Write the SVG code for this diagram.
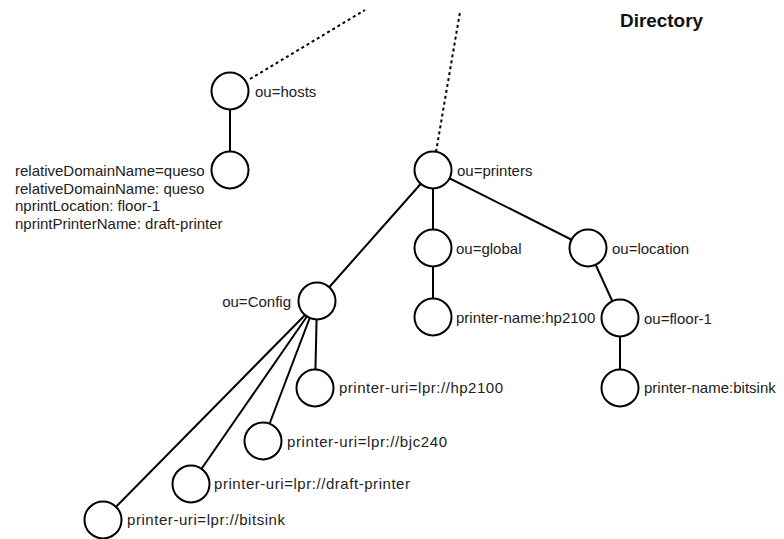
<svg xmlns="http://www.w3.org/2000/svg" width="784" height="539" viewBox="0 0 784 539">
<style>
.n{fill:#fff;stroke:#000;stroke-width:2}
.e{stroke:#000;stroke-width:2;fill:none}
.d{stroke:#000;stroke-width:2;fill:none;stroke-dasharray:3 3}
text{font-family:"Liberation Sans",Arial,sans-serif;font-size:15px;fill:#222}
.t{font-weight:bold;font-size:18px;fill:#111}
</style>
<rect width="784" height="539" fill="#fff"/>
<g id="connectors">
<line class="d" x1="250" y1="79" x2="365" y2="10"/>
<line class="d" x1="436" y1="152" x2="460" y2="12"/>
<line class="e" x1="230" y1="91" x2="230" y2="171"/>
<line class="e" x1="433" y1="170" x2="317" y2="301"/>
<line class="e" x1="433" y1="170" x2="433" y2="248"/>
<line class="e" x1="433" y1="170" x2="588" y2="248"/>
<line class="e" x1="433" y1="248" x2="433" y2="317"/>
<line class="e" x1="588" y1="248" x2="620" y2="318"/>
<line class="e" x1="620" y1="318" x2="620" y2="388"/>
<line class="e" x1="317" y1="301" x2="315" y2="388"/>
<line class="e" x1="312" y1="312" x2="263" y2="441"/>
<line class="e" x1="310" y1="312" x2="191" y2="484"/>
<line class="e" x1="308" y1="312" x2="103" y2="520"/>
</g>
<text class="t" x="620" y="27" textLength="83" lengthAdjust="spacingAndGlyphs">Directory</text>
<g id="hosts"><circle class="n" cx="230" cy="91" r="18.5"/><text x="255" y="97">ou=hosts</text></g>
<g id="queso"><circle class="n" cx="230" cy="170" r="18.5"/>
<text x="15" y="176">relativeDomainName=queso</text>
<text x="15" y="193.7">relativeDomainName: queso</text>
<text x="15" y="211.4">nprintLocation: floor-1</text>
<text x="15" y="229">nprintPrinterName: draft-printer</text></g>
<g id="printers"><circle class="n" cx="433" cy="170" r="18.5"/><text x="457" y="176">ou=printers</text></g>
<g id="global"><circle class="n" cx="433" cy="248" r="18.5"/><text x="456" y="254">ou=global</text></g>
<g id="location"><circle class="n" cx="588" cy="248" r="18.5"/><text x="612" y="254">ou=location</text></g>
<g id="config"><circle class="n" cx="317" cy="301" r="18.5"/><text x="291" y="307" text-anchor="end">ou=Config</text></g>
<g id="hp2100name"><circle class="n" cx="433" cy="317" r="18.5"/><text x="456" y="323">printer-name:hp2100</text></g>
<g id="floor1"><circle class="n" cx="620" cy="318" r="18.5"/><text x="644" y="324">ou=floor-1</text></g>
<g id="bitsinkname"><circle class="n" cx="620" cy="388" r="18.5"/><text x="644" y="393">printer-name:bitsink</text></g>
<g id="hp2100uri"><circle class="n" cx="315" cy="388" r="18.5"/><text x="339" y="393" textLength="164">printer-uri=lpr://hp2100</text></g>
<g id="bjc240uri"><circle class="n" cx="263" cy="441" r="18.5"/><text x="287" y="447" textLength="160">printer-uri=lpr://bjc240</text></g>
<g id="drafturi"><circle class="n" cx="191" cy="484" r="18.5"/><text x="214" y="489" textLength="196">printer-uri=lpr://draft-printer</text></g>
<g id="bitsinkuri"><circle class="n" cx="103" cy="520" r="18.5"/><text x="127" y="525" textLength="158">printer-uri=lpr://bitsink</text></g>
</svg>
